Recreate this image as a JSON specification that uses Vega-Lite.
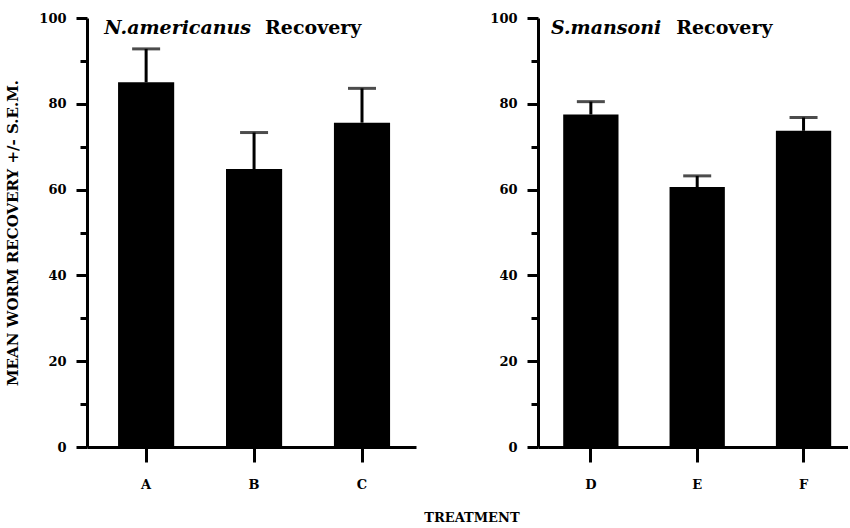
{
  "$schema": "https://vega.github.io/schema/vega-lite/v6.json",
  "background": "white",
  "padding": {"left": 5, "top": 12, "right": 0, "bottom": 0},
  "config": {
    "view": {"stroke": null},
    "font": "DejaVu Serif",
    "concat": {"spacing": 73},
    "axis": {
      "domainColor": "black", "domainWidth": 3, "tickColor": "black", "tickWidth": 3,
      "labelColor": "black", "labelFont": "DejaVu Serif", "labelFontWeight": "bold", "labelFontSize": 13,
      "titleColor": "black", "titleFont": "DejaVu Serif", "titleFontWeight": "bold", "grid": false
    }
  },
  "datasets": {
    "nam": [
      {"treatment": "A", "mean": 85.0, "upper": 92.8},
      {"treatment": "B", "mean": 64.8, "upper": 73.3},
      {"treatment": "C", "mean": 75.6, "upper": 83.6}
    ],
    "sman": [
      {"treatment": "D", "mean": 77.5, "upper": 80.5},
      {"treatment": "E", "mean": 60.6, "upper": 63.2},
      {"treatment": "F", "mean": 73.7, "upper": 76.8}
    ],
    "titleL": [{"treatment": "B", "species": "N.americanus", "word": "Recovery", "yv": 97.6}],
    "titleR": [{"treatment": "E", "species": "S.mansoni", "word": "Recovery", "yv": 97.6}]
  },
  "title": {"text": "TREATMENT", "orient": "bottom", "anchor": "middle", "fontSize": 13, "fontWeight": "bold", "font": "DejaVu Serif", "color": "black", "dx": 45, "offset": 21, "limit": 0},
  "hconcat": [
    {
      "width": 329, "height": 429,
      "layer": [
        {
          "data": {"name": "nam"},
          "mark": {"type": "bar", "color": "black"},
          "encoding": {
            "x": {"field": "treatment", "type": "nominal", "scale": {"domain": ["A", "B", "C"], "paddingInner": 0.48, "paddingOuter": 0.264, "align": 0.545},
                  "axis": {"title": null, "labelAngle": 0, "tickSize": 15, "labelPadding": 16, "labelFontWeight": "bold", "labelFontSize": 13}},
            "y": {"field": "mean", "type": "quantitative", "scale": {"domain": [0, 100], "nice": false},
                  "axis": {"title": "MEAN WORM RECOVERY +/- S.E.M.", "titleFontSize": 15, "titlePadding": 18, "titleFontWeight": "bold",
                           "values": [0, 10, 20, 30, 40, 50, 60, 70, 80, 90, 100],
                           "labelExpr": "datum.value % 20 === 0 ? datum.label : ''",
                           "labelFontWeight": "bold", "labelFontSize": 13,
                           "tickSize": {"condition": {"test": "datum.value % 20 === 0", "value": 11}, "value": 7},
                           "labelPadding": 10}}
          }
        },
        {
          "data": {"name": "nam"},
          "mark": {"type": "rule", "color": "black", "strokeWidth": 3},
          "encoding": {
            "x": {"field": "treatment", "type": "nominal"},
            "y": {"field": "mean", "type": "quantitative"},
            "y2": {"field": "upper"}
          }
        },
        {
          "data": {"name": "nam"},
          "mark": {"type": "tick", "orient": "horizontal", "color": "black", "size": 28, "thickness": 3},
          "encoding": {
            "x": {"field": "treatment", "type": "nominal"},
            "y": {"field": "upper", "type": "quantitative"}
          }
        },
        {
          "data": {"name": "titleL"},
          "mark": {"type": "text", "align": "right", "baseline": "middle", "dx": -3, "fontStyle": "italic", "fontWeight": "bold", "fontSize": 19, "color": "black"},
          "encoding": {
            "x": {"field": "treatment", "type": "nominal"},
            "y": {"field": "yv", "type": "quantitative"},
            "text": {"field": "species"}
          }
        },
        {
          "data": {"name": "titleL"},
          "mark": {"type": "text", "align": "left", "baseline": "middle", "dx": 11, "fontWeight": "bold", "fontSize": 19, "color": "black"},
          "encoding": {
            "x": {"field": "treatment", "type": "nominal"},
            "y": {"field": "yv", "type": "quantitative"},
            "text": {"field": "word"}
          }
        }
      ]
    },
    {
      "width": 310, "height": 429,
      "layer": [
        {
          "data": {"name": "sman"},
          "mark": {"type": "bar", "color": "black"},
          "encoding": {
            "x": {"field": "treatment", "type": "nominal", "scale": {"domain": ["D", "E", "F"], "paddingInner": 0.48, "paddingOuter": 0.1975, "align": 0.6},
                  "axis": {"title": null, "labelAngle": 0, "tickSize": 15, "labelPadding": 16, "labelFontWeight": "bold", "labelFontSize": 13}},
            "y": {"field": "mean", "type": "quantitative", "scale": {"domain": [0, 100], "nice": false},
                  "axis": {"title": null,
                           "values": [0, 10, 20, 30, 40, 50, 60, 70, 80, 90, 100],
                           "labelExpr": "datum.value % 20 === 0 ? datum.label : ''",
                           "labelFontWeight": "bold", "labelFontSize": 13,
                           "tickSize": {"condition": {"test": "datum.value % 20 === 0", "value": 11}, "value": 7},
                           "labelPadding": 10}}
          }
        },
        {
          "data": {"name": "sman"},
          "mark": {"type": "rule", "color": "black", "strokeWidth": 3},
          "encoding": {
            "x": {"field": "treatment", "type": "nominal"},
            "y": {"field": "mean", "type": "quantitative"},
            "y2": {"field": "upper"}
          }
        },
        {
          "data": {"name": "sman"},
          "mark": {"type": "tick", "orient": "horizontal", "color": "black", "size": 28, "thickness": 3},
          "encoding": {
            "x": {"field": "treatment", "type": "nominal"},
            "y": {"field": "upper", "type": "quantitative"}
          }
        },
        {
          "data": {"name": "titleR"},
          "mark": {"type": "text", "align": "right", "baseline": "middle", "dx": -36, "fontStyle": "italic", "fontWeight": "bold", "fontSize": 19, "color": "black"},
          "encoding": {
            "x": {"field": "treatment", "type": "nominal"},
            "y": {"field": "yv", "type": "quantitative"},
            "text": {"field": "species"}
          }
        },
        {
          "data": {"name": "titleR"},
          "mark": {"type": "text", "align": "left", "baseline": "middle", "dx": -21, "fontWeight": "bold", "fontSize": 19, "color": "black"},
          "encoding": {
            "x": {"field": "treatment", "type": "nominal"},
            "y": {"field": "yv", "type": "quantitative"},
            "text": {"field": "word"}
          }
        }
      ]
    }
  ]
}
